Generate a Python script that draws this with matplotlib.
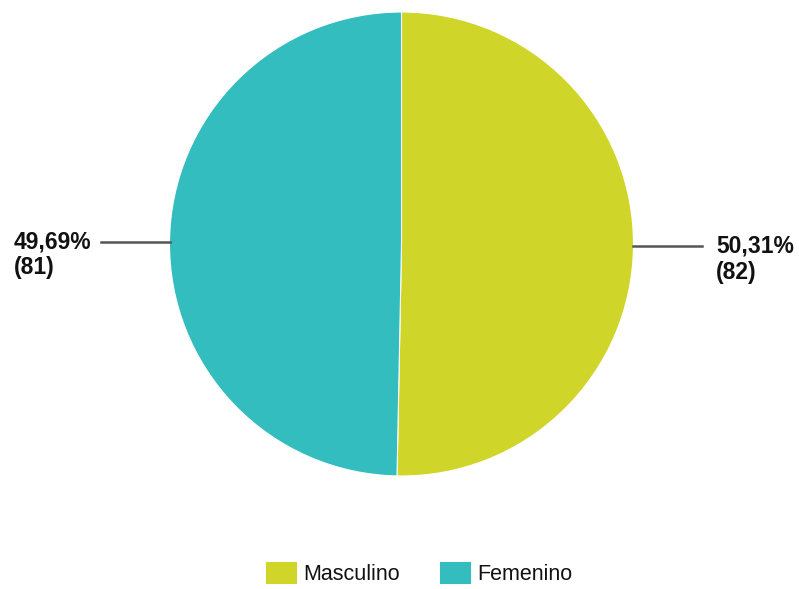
import matplotlib
matplotlib.use("Agg")
import matplotlib.pyplot as plt
import numpy as np

plt.rcParams['font.family'] = ['Liberation Sans', 'DejaVu Sans']

categories = ["Masculino", "Femenino"]
counts = [82, 81]
percent_labels = ["50,31%", "49,69%"]
colors = ["#D0D52A", "#33BDBE"]

W, H = 799, 589
fig = plt.figure(figsize=(W / 100, H / 100), dpi=100)

# pie centre (401.5, 244) px, radius 232 px
cx, cy, r = 401.5, 244, 232
ax = fig.add_axes([(cx - r) / W, (H - cy - r) / H, 2 * r / W, 2 * r / H])

wedges, _ = ax.pie(counts, colors=colors, startangle=90, counterclock=False,
                   radius=1, wedgeprops=dict(edgecolor="white", linewidth=0.8))
ax.set_xlim(-1, 1)
ax.set_ylim(-1, 1)
ax.set_aspect("equal")
ax.axis("off")

for w, pct, n in zip(wedges, percent_labels, counts):
    ang = np.deg2rad((w.theta1 + w.theta2) / 2)
    x0, y0 = np.cos(ang), np.sin(ang)
    side = 1 if x0 > 0 else -1
    x1 = side * 1.295
    ax.plot([x0, x1], [y0, y0], color="#555555", lw=1.8, clip_on=False)
    txt = f"{pct}\n({n})"
    if side > 0:
        ax.annotate(txt, (x1, y0), xytext=(14, -13), textcoords="offset pixels",
                    ha="left", va="center", fontsize=16.5, fontweight="bold",
                    color="#111111", linespacing=1.15, annotation_clip=False)
    else:
        ax.annotate(txt, (x1, y0), xytext=(-10, -13), textcoords="offset pixels",
                    ha="right", va="center", multialignment="left", fontsize=16.5,
                    fontweight="bold", color="#111111", linespacing=1.15,
                    annotation_clip=False)

handles = [plt.Rectangle((0, 0), 1, 1, facecolor=c, edgecolor=c, lw=1.5,
                         joinstyle="round") for c in colors]
fig.legend(handles, categories, loc="center", bbox_to_anchor=(0.525, 0.025),
           ncol=2, frameon=False, fontsize=15.5, handlelength=1.35, handleheight=1.05,
           handletextpad=0.35, columnspacing=1.9, labelcolor="#111111")

fig.savefig("out.png", dpi=100)
